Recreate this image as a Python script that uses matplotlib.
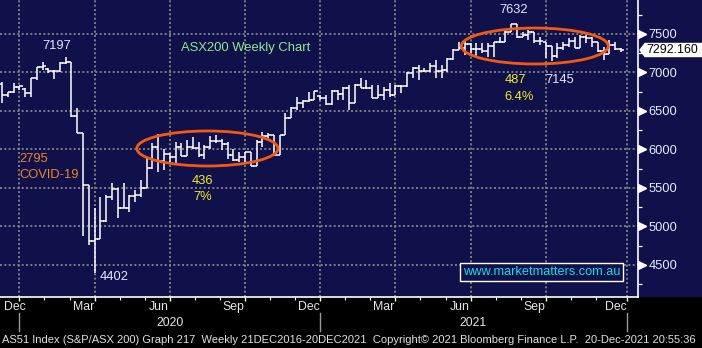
import matplotlib
matplotlib.use("Agg")
import matplotlib.pyplot as plt
import numpy as np
from matplotlib.patches import Ellipse, Polygon, Rectangle
from matplotlib.transforms import blended_transform_factory, ScaledTranslation

# ---------------- data (weekly bars, Dec 2019 - Dec 2021) ----------------
opens = [6850, 6710, 6745, 6816, 6790, 6735, 6929, 7065, 7050, 7017,
         7022, 7125, 7139, 6441, 6216, 5539, 4816, 4842, 5068, 5387,
         5488, 5242, 5246, 5391, 5405, 5497, 5755, 6036, 5847, 5942,
         5897, 6032, 5920, 6032, 6023, 5928, 6029, 6115, 6112, 6073,
         5924, 5860, 5897, 5964, 5791, 6102, 6176, 6184, 5927, 6190,
         6405, 6539, 6601, 6636, 6642, 6700, 6665, 6587, 6757, 6715,
         6800, 6607, 6841, 6800, 6794, 6673, 6710, 6767, 6708, 6824,
         6828, 6995, 7063, 7017, 7025, 7085, 7014, 7030, 7179, 7295,
         7312, 7369, 7308, 7309, 7273, 7348, 7394, 7393, 7523, 7629,
         7461, 7489, 7523, 7407, 7390, 7342, 7216, 7320, 7362, 7415,
         7323, 7457, 7443, 7396, 7279, 7242, 7354, 7304]
highs = [6880, 6751, 6860, 6825, 6800, 6930, 7075, 7140, 7060, 7032,
         7140, 7197, 7140, 6535, 6220, 5545, 5240, 5387, 5409, 5565,
         5500, 5565, 5409, 5474, 5604, 5907, 6081, 6201, 6003, 5960,
         6094, 6081, 6124, 6166, 6101, 6059, 6175, 6188, 6140, 6100,
         6000, 5972, 5972, 5972, 6124, 6232, 6210, 6188, 6190, 6470,
         6556, 6686, 6643, 6751, 6760, 6708, 6708, 6773, 6773, 6816,
         6838, 6850, 6924, 6903, 6838, 6838, 6816, 6860, 6838, 6838,
         7010, 7075, 7097, 7054, 7119, 7162, 7097, 7184, 7300, 7400,
         7422, 7379, 7379, 7379, 7379, 7400, 7465, 7552, 7632, 7630,
         7530, 7552, 7530, 7465, 7400, 7345, 7379, 7400, 7444, 7465,
         7487, 7487, 7465, 7400, 7335, 7422, 7400, 7314]
lows = [6605, 6686, 6740, 6773, 6686, 6686, 6900, 7032, 6990, 6912,
        7010, 7110, 6426, 6210, 4880, 4760, 4402, 4840, 5062, 5344,
        5110, 5240, 5188, 5318, 5383, 5496, 5750, 5712, 5734, 5821,
        5800, 5916, 5916, 6003, 5907, 5873, 6003, 6081, 5990, 5880,
        5850, 5842, 5821, 5790, 5790, 6037, 6124, 5925, 5925, 6188,
        6405, 6513, 6535, 6621, 6640, 6643, 6578, 6578, 6643, 6643,
        6513, 6600, 6795, 6790, 6665, 6665, 6643, 6686, 6708, 6730,
        6816, 6924, 6903, 7010, 7010, 6924, 6924, 7010, 7162, 7292,
        7227, 7249, 7205, 7249, 7205, 7205, 7379, 7390, 7520, 7444,
        7455, 7422, 7379, 7357, 7184, 7145, 7184, 7292, 7335, 7320,
        7323, 7379, 7335, 7270, 7162, 7240, 7290, 7270]
closes = [6710, 6745, 6816, 6821, 6735, 6929, 7065, 7090, 7017, 7022,
          7125, 7139, 6441, 6216, 5539, 4816, 4842, 5068, 5387, 5488,
          5242, 5246, 5391, 5405, 5497, 5755, 6036, 5847, 5942, 5897,
          6032, 5920, 6032, 6023, 5928, 6029, 6115, 6112, 6073, 5924,
          5860, 5897, 5964, 5791, 6102, 6176, 6184, 5927, 6190, 6405,
          6539, 6601, 6636, 6642, 6756, 6665, 6587, 6757, 6715, 6800,
          6607, 6841, 6800, 6794, 6673, 6710, 6767, 6708, 6824, 6828,
          6995, 7063, 7017, 7025, 7085, 7014, 7030, 7179, 7295, 7312,
          7369, 7308, 7309, 7273, 7348, 7394, 7393, 7523, 7629, 7461,
          7489, 7523, 7407, 7403, 7342, 7216, 7320, 7362, 7415, 7323,
          7457, 7443, 7396, 7279, 7242, 7354, 7304, 7292.16]

# quarter-end week index (ticks), month labels, years
quarter_weeks = [3, 16, 29, 42, 55, 68, 81, 94, 108]
month_labels = ["Dec", "Mar", "Jun", "Sep", "Dec", "Mar", "Jun", "Sep", "Dec"]
year_labels = ["2020", "2021"]
y_ticks = [4500, 5000, 5500, 6000, 6500, 7000, 7500]

footer = ("AS51 Index (S&P/ASX 200) Graph 217  Weekly 21DEC2016-20DEC2021  "
          "Copyright\u00a9 2021 Bloomberg Finance L.P.  20-Dec-2021 20:55:36")

# ---------------- style ----------------
NAVY = "#10104a"
FONT = "Liberation Sans"
plt.rcParams["font.family"] = [FONT, "DejaVu Sans"]
W, H = 702, 348
fig = plt.figure(figsize=(W / 100, H / 100), dpi=100, facecolor="black")
ax_bottom_px = 297
ax_right_px = 638
ax = fig.add_axes([0, 1 - ax_bottom_px / H, ax_right_px / W, ax_bottom_px / H])
fig.add_artist(Rectangle((0, 1 - ax_bottom_px / H), 1, ax_bottom_px / H,
                         transform=fig.transFigure, facecolor=NAVY,
                         edgecolor="none", zorder=-10))
ax.set_facecolor(NAVY)

x = np.arange(len(closes))
ax.set_xlim(-0.35, 109.94)
ax.set_ylim(4084, 7941.6)

# gridlines
grid_kw = dict(color="#8c8c8c", lw=1.2, linestyle=(0, (1.2, 1.4)), zorder=1)
for yv in y_ticks:
    ax.axhline(yv, **grid_kw)
for qv in quarter_weeks:
    ax.axvline(qv, **grid_kw)

# bars
ax.vlines(x, lows, highs, color="white", lw=1.1, zorder=3)
ax.hlines(opens, x - 0.55, x, color="white", lw=1.1, zorder=3)
ax.hlines(closes, x, x + 0.55, color="white", lw=1.1, zorder=3)

# spines
for s in ["top", "left"]:
    ax.spines[s].set_visible(False)
for s in ["right", "bottom"]:
    ax.spines[s].set_color("white")
    ax.spines[s].set_linewidth(1.2)

# right axis
ax.yaxis.tick_right()
ax.set_yticks(y_ticks)
ax.set_yticklabels([str(v) for v in y_ticks])
ax.set_yticks(np.arange(4250, 7800, 500), minor=True)
ax.tick_params(axis="y", which="major", length=0, pad=7.5,
               labelcolor="#e4eaff", labelsize=9.3)
ax.tick_params(axis="y", which="minor", length=2.6, width=0.9, color="white",
               direction="out")
for lab in ax.get_yticklabels():
    lab.set_fontfamily(FONT)
tr_arrow = blended_transform_factory(ax.transAxes, ax.transData) + \
    ScaledTranslation(4 / 100, 0, fig.dpi_scale_trans)
ax.plot([1.0] * len(y_ticks), y_ticks, ls="none", marker=">", ms=5.5,
        color="white", mec="white", transform=tr_arrow, clip_on=False, zorder=5)
ax.hlines(y_ticks, 1.0, 1.012, color="white", lw=1.0,
          transform=blended_transform_factory(ax.transAxes, ax.transData),
          clip_on=False)

# bottom axis ticks
ax.set_xticks(quarter_weeks)
ax.set_xticklabels([])
minor_x = [q + k * 13 / 3 for q in quarter_weeks for k in (1, 2)]
ax.set_xticks([m for m in minor_x if m < 109.9], minor=True)
ax.tick_params(axis="x", which="major", length=3, width=1, color="white")
ax.tick_params(axis="x", which="minor", length=2, width=0.8, color="white")

# month / year labels
trx = blended_transform_factory(ax.transData, fig.transFigure)
def fy(py):
    return 1 - py / H
for i, (q, lab) in enumerate(zip(quarter_weeks, month_labels)):
    cx = q - 1.95 if i > 0 else q - 0.7
    ax.text(cx, fy(307), lab, transform=trx, ha="center", va="center",
            color="#e6e6e6", fontsize=8.8, clip_on=False)
year_bounds = [quarter_weeks[0], quarter_weeks[4], quarter_weeks[8]]
for k, lab in enumerate(year_labels):
    cx = (year_bounds[k] + year_bounds[k + 1]) / 2
    ax.text(cx, fy(323), lab, transform=trx, ha="center", va="center",
            color="#e6e6e6", fontsize=8.8, clip_on=False)
for b in year_bounds:
    ax.plot([b, b], [fy(313), fy(331)], transform=trx, color="#9a9a9a",
            lw=1.0, clip_on=False)

# footer (fit width)
ft = fig.text(2 / W, fy(340), footer, ha="left", va="center", color="#e0e0e0",
              fontsize=8, fontfamily=[FONT, "DejaVu Sans"])
fig.canvas.draw()
bb = ft.get_window_extent()
ft.set_fontsize(8 * 697 / bb.width)

# annotations
def label(xv, yv, s, color, ha="center", size=9.3):
    ax.text(xv, yv, s, color=color, ha=ha, va="center", fontsize=size, zorder=6)

label(9.5, 7344, "7197", "#dfe8ff")
label(19.4, 4344, "4402", "#dfe8ff")
label(2.94, 5877, "2795", "#f0842a", ha="left")
label(2.94, 5669, "COVID-19", "#f0842a", ha="left")
label(30.9, 7318, "ASX200 Weekly Chart", "#8fe88f", ha="left", size=9.4)
label(34.7, 5591, "436", "#ecec2a")
label(34.7, 5383, "7%", "#ecec2a")
label(88.5, 7812, "7632", "#dfe8ff")
label(88.7, 6903, "487", "#ecec2a")
label(89.4, 6682, "6.4%", "#ecec2a")
label(96.5, 6903, "7145", "#dfe8ff")

ax.text(93.3, 4409, "www.marketmatters.com.au", color="#10e0ea", ha="center",
        va="center", fontsize=9.2, zorder=6,
        bbox=dict(boxstyle="square,pad=0.2", facecolor=NAVY,
                  edgecolor="white", lw=1.0))

# ellipses
ell_kw = dict(facecolor="none", edgecolor="#f25a14", lw=2.0, zorder=4)
ax.add_patch(Ellipse((35.5, 6013), 24.4, 455, **ell_kw))
ax.add_patch(Ellipse((92.1, 7344), 25.4, 467, **ell_kw))

# last-price tag
fig.canvas.draw()
py_last = ax.transData.transform((0, closes[-1]))[1]
xt = ax_right_px + 2
tag = Polygon([(xt, py_last), (xt + 5, py_last + 6.5), (W + 2, py_last + 6.5),
               (W + 2, py_last - 6.5), (xt + 5, py_last - 6.5)],
              closed=True, transform=None, facecolor="white",
              edgecolor="white", zorder=10, clip_on=False)
fig.add_artist(tag)
fig.text((xt + 6) / W, py_last / H, f"{closes[-1]:.3f}", color="black",
         ha="left", va="center", fontsize=8.9, zorder=11)

fig.savefig("out.png", dpi=100, facecolor="black")
